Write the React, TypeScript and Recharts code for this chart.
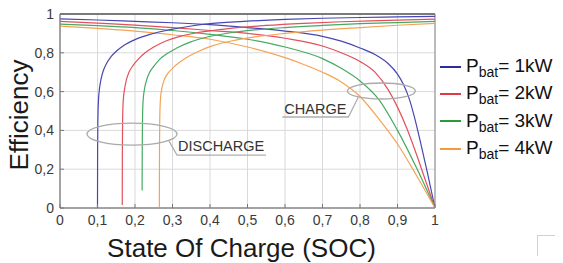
import React from 'react';
import {
  LineChart,
  Line,
  XAxis,
  YAxis,
  CartesianGrid,
  Legend,
  ReferenceArea,
  ReferenceLine,
  ReferenceDot,
} from 'recharts';

// ---- tick values ----
const xTicks = [0, 0.1, 0.2, 0.3, 0.4, 0.5, 0.6, 0.7, 0.8, 0.9, 1];
const yTicks = [0, 0.2, 0.4, 0.6, 0.8, 1];

// ---- legend labels / colours ----
const powers = ['1kW', '2kW', '3kW', '4kW'];
const lineColors = ['#4747b3', '#e2505c', '#45aa62', '#f4a355'];
const legendColors = ['#2c2c9c', '#e03a46', '#2b9a3c', '#f59a3a'];

// ---- CHARGE curves (efficiency falls with SOC) ----
const chargeSoc1 = [0, 0.1, 0.2, 0.3, 0.4, 0.5, 0.6, 0.7, 0.75, 0.8, 0.85, 0.875, 0.9, 0.915, 0.93, 0.945, 0.96, 0.98, 1];
const chargeEff1 = [0.975, 0.969, 0.962, 0.955, 0.945, 0.93, 0.912, 0.885, 0.86, 0.825, 0.78, 0.745, 0.69, 0.64, 0.57, 0.47, 0.35, 0.18, 0];

const chargeSoc2 = [0, 0.1, 0.2, 0.3, 0.4, 0.5, 0.6, 0.7, 0.75, 0.8, 0.84, 0.875, 0.9, 0.925, 0.95, 0.975, 1];
const chargeEff2 = [0.962, 0.953, 0.943, 0.93, 0.915, 0.9, 0.875, 0.835, 0.8, 0.755, 0.7, 0.61, 0.52, 0.41, 0.28, 0.14, 0];

const chargeSoc3 = [0, 0.1, 0.2, 0.3, 0.4, 0.5, 0.6, 0.7, 0.75, 0.8, 0.85, 0.9, 0.95, 1];
const chargeEff3 = [0.948, 0.94, 0.93, 0.915, 0.895, 0.87, 0.83, 0.77, 0.72, 0.655, 0.56, 0.4, 0.21, 0];

const chargeSoc4 = [0, 0.1, 0.2, 0.3, 0.4, 0.5, 0.6, 0.65, 0.7, 0.75, 0.8, 0.85, 0.9, 0.95, 1];
const chargeEff4 = [0.937, 0.926, 0.912, 0.893, 0.87, 0.83, 0.775, 0.74, 0.7, 0.65, 0.575, 0.46, 0.33, 0.17, 0];

// ---- DISCHARGE curves (efficiency rises with SOC) ----
const dischSoc1 = [0.1, 0.1003, 0.101, 0.1025, 0.105, 0.109, 0.115, 0.124, 0.136, 0.15, 0.17, 0.2, 0.24, 0.29, 0.35, 0.4, 0.5, 0.6, 0.7, 0.8, 0.9, 1];
const dischEff1 = [0.0, 0.3, 0.45, 0.55, 0.61, 0.66, 0.705, 0.745, 0.78, 0.808, 0.838, 0.868, 0.895, 0.918, 0.938, 0.95, 0.963, 0.972, 0.978, 0.982, 0.985, 0.988];

const dischSoc2 = [0.166, 0.1663, 0.167, 0.1685, 0.172, 0.177, 0.184, 0.195, 0.21, 0.227, 0.25, 0.284, 0.32, 0.37, 0.45, 0.55, 0.65, 0.75, 0.85, 1];
const dischEff2 = [0.015, 0.3, 0.45, 0.55, 0.61, 0.66, 0.7, 0.735, 0.77, 0.8, 0.83, 0.862, 0.885, 0.905, 0.925, 0.941, 0.952, 0.96, 0.966, 0.974];

const dischSoc3 = [0.219, 0.2193, 0.22, 0.2215, 0.225, 0.231, 0.239, 0.25, 0.265, 0.285, 0.31, 0.347, 0.39, 0.45, 0.52, 0.6, 0.7, 0.8, 0.9, 1];
const dischEff3 = [0.09, 0.3, 0.45, 0.55, 0.61, 0.66, 0.7, 0.73, 0.765, 0.795, 0.823, 0.855, 0.88, 0.902, 0.918, 0.93, 0.941, 0.95, 0.956, 0.962];

const dischSoc4 = [0.265, 0.2653, 0.266, 0.2675, 0.271, 0.277, 0.286, 0.3, 0.318, 0.34, 0.37, 0.41, 0.46, 0.52, 0.6, 0.7, 0.8, 0.9, 1];
const dischEff4 = [0.005, 0.3, 0.45, 0.55, 0.61, 0.655, 0.69, 0.72, 0.75, 0.778, 0.808, 0.838, 0.862, 0.882, 0.9, 0.917, 0.93, 0.942, 0.952];

const zip = (s: number[], e: number[]) => s.map((soc, i) => ({ soc, eff: e[i] }));

const chargeSeries = [
  zip(chargeSoc1, chargeEff1),
  zip(chargeSoc2, chargeEff2),
  zip(chargeSoc3, chargeEff3),
  zip(chargeSoc4, chargeEff4),
];
const dischargeSeries = [
  zip(dischSoc1, dischEff1),
  zip(dischSoc2, dischEff2),
  zip(dischSoc3, dischEff3),
  zip(dischSoc4, dischEff4),
];

// annotation anchors (ellipse centres, data coords)
const dischargeNote = { soc: 0.192, eff: 0.381 };
const chargeNote = { soc: 0.857, eff: 0.603 };

const FONT = '"Liberation Sans", Arial, Helvetica, sans-serif';
const fmt = (v: number) => (v === 0 ? '0' : v === 1 ? '1' : v.toFixed(1).replace('.', ','));

const DischargeCallout = (props: any) => {
  const { cx, cy } = props;
  if (cx == null || cy == null) return null;
  return (
    <g>
      <ellipse cx={cx} cy={cy} rx={45} ry={11} fill="none" stroke="#aaaaaa" strokeWidth={1.3} />
      <polyline
        points={`${cx + 37},${cy + 7} ${cx + 45},${cy + 21} ${cx + 134},${cy + 21}`}
        fill="none"
        stroke="#b0b0b0"
        strokeWidth={1.3}
      />
      <text x={cx + 46} y={cy + 17} fontFamily={FONT} fontSize={14.5} fill="#333">
        DISCHARGE
      </text>
    </g>
  );
};

const ChargeCallout = (props: any) => {
  const { cx, cy } = props;
  if (cx == null || cy == null) return null;
  return (
    <g>
      <ellipse cx={cx} cy={cy} rx={34} ry={8} fill="none" stroke="#aaaaaa" strokeWidth={1.3} />
      <polyline
        points={`${cx - 23},${cy + 6} ${cx - 33},${cy + 26} ${cx - 99},${cy + 26}`}
        fill="none"
        stroke="#b0b0b0"
        strokeWidth={1.3}
      />
      <text x={cx - 35} y={cy + 23} fontFamily={FONT} fontSize={14.5} fill="#333" textAnchor="end">
        CHARGE
      </text>
    </g>
  );
};

const renderLegend = (props: any) => {
  const payload = (props.payload || []).filter((p: any) => p.type !== 'none');
  return (
    <div style={{ fontFamily: FONT }}>
      {payload.map((p: any, i: number) => (
        <div key={i} style={{ height: 27.3, display: 'flex', alignItems: 'center', whiteSpace: 'nowrap' }}>
          <span
            style={{
              display: 'inline-block',
              width: 21,
              height: 0,
              borderTop: `2px solid ${legendColors[i]}`,
              marginRight: 5,
            }}
          />
          <span style={{ fontSize: 19, color: '#111', lineHeight: '19px' }}>
            P
            <sub style={{ fontSize: 14, verticalAlign: 'baseline', position: 'relative', top: 5 }}>bat</sub>
            {'= ' + p.value}
          </span>
        </div>
      ))}
    </div>
  );
};

const XLabel = (props: any) => {
  const vb = props.viewBox || {};
  return (
    <text
      x={vb.x + vb.width / 2 - 6}
      y={vb.y + vb.height - 6}
      textAnchor="middle"
      fontFamily={FONT}
      fontSize={26}
      fill="#1a1a1a"
    >
      State Of Charge (SOC)
    </text>
  );
};

const YLabel = (props: any) => {
  const vb = props.viewBox || {};
  const x = vb.x + 28;
  const y = vb.y + vb.height / 2 + 4;
  return (
    <text
      x={x}
      y={y}
      transform={`rotate(-90, ${x}, ${y})`}
      textAnchor="middle"
      fontFamily={FONT}
      fontSize={26}
      fill="#1a1a1a"
    >
      Efficiency
    </text>
  );
};

export default function App() {
  return (
    <div style={{ position: 'absolute', left: 0, top: 0, width: 563, height: 263, background: '#fff' }}>
      <LineChart width={563} height={263} margin={{ top: 14, right: 128, bottom: 0, left: 0 }}>
        <CartesianGrid stroke="#d9d9d9" strokeWidth={1} />
        <XAxis
          type="number"
          dataKey="soc"
          domain={[0, 1]}
          ticks={xTicks}
          tickFormatter={fmt}
          height={55}
          axisLine={{ stroke: '#8a8a8a' }}
          tickLine={{ stroke: '#777' }}
          tickSize={-4}
          tickMargin={11}
          tick={{ fill: '#3a3a3a', fontSize: 14, fontFamily: FONT }}
          interval={0}
          label={<XLabel />}
          allowDataOverflow
        />
        <YAxis
          type="number"
          dataKey="eff"
          domain={[0, 1]}
          ticks={yTicks}
          tickFormatter={fmt}
          width={60}
          axisLine={{ stroke: '#8a8a8a' }}
          tickLine={{ stroke: '#777' }}
          tickSize={-4}
          tickMargin={10}
          tick={{ fill: '#3a3a3a', fontSize: 14, fontFamily: FONT }}
          interval={0}
          label={<YLabel />}
          allowDataOverflow
        />
        <ReferenceArea x1={0} x2={1} y1={0} y2={1} fill="none" stroke="#8a8a8a" strokeWidth={1} ifOverflow="visible" />
        <ReferenceLine y={1} stroke="#7a7a7a" strokeWidth={2} ifOverflow="visible" />
        {chargeSeries.map((d, i) => (
          <Line
            key={'c' + i}
            data={d}
            dataKey="eff"
            name={powers[i]}
            type="monotone"
            stroke={lineColors[i]}
            strokeWidth={1.2}
            dot={false}
            activeDot={false}
            isAnimationActive={false}
          />
        ))}
        {dischargeSeries.map((d, i) => (
          <Line
            key={'d' + i}
            data={d}
            dataKey="eff"
            name={'d' + powers[i]}
            legendType="none"
            type="monotone"
            stroke={lineColors[i]}
            strokeWidth={1.2}
            dot={false}
            activeDot={false}
            isAnimationActive={false}
          />
        ))}
        <ReferenceDot x={dischargeNote.soc} y={dischargeNote.eff} shape={DischargeCallout} ifOverflow="visible" />
        <ReferenceDot x={chargeNote.soc} y={chargeNote.eff} shape={ChargeCallout} ifOverflow="visible" />
        <Legend
          layout="vertical"
          align="center"
          verticalAlign="middle"
          wrapperStyle={{ left: 440, top: 53, width: 123 }}
          content={renderLegend}
        />
      </LineChart>
      <div
        style={{
          position: 'absolute',
          left: 537,
          top: 235,
          width: 17,
          height: 20,
          borderLeft: '1.5px solid #d0d0d0',
          borderTop: '1.5px solid #d0d0d0',
        }}
      />
    </div>
  );
}
